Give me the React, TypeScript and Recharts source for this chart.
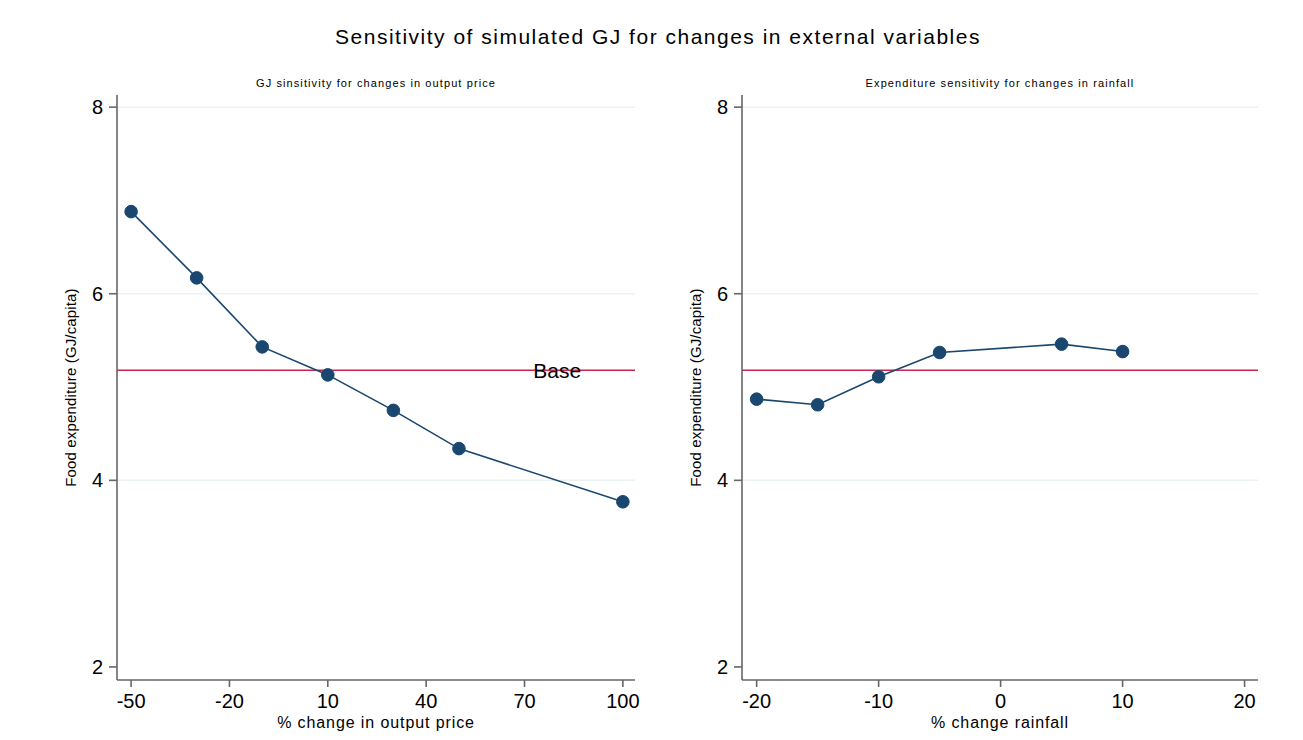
import React from 'react';
import { LineChart, Line, XAxis, YAxis, ReferenceLine, ReferenceDot } from 'recharts';

// Simulated food expenditure (GJ/capita) under changes in output price
const priceChange = [-50, -30, -10, 10, 30, 50, 100];
const priceExpenditure = [6.88, 6.17, 5.43, 5.13, 4.75, 4.34, 3.77];

// Simulated food expenditure (GJ/capita) under changes in rainfall
const rainChange = [-20, -15, -10, -5, 5, 10];
const rainExpenditure = [4.87, 4.81, 5.11, 5.37, 5.46, 5.38];

const priceTicks = [-50, -20, 10, 40, 70, 100];
const rainTicks = [-20, -10, 0, 10, 20];
const yTicks = [2, 4, 6, 8];
const gridValues = [4, 6, 8];
const BASE = 5.18;

const FONT = '"Liberation Sans", Arial, Helvetica, sans-serif';
const NAVY = '#1a476f';
const RED = '#cc2450';
const AXIS = '#666666';
const GRID = '#e9f1f2';

type Point = { x: number; y: number };

const zip = (xs: number[], ys: number[]): Point[] => xs.map((x, i) => ({ x, y: ys[i] }));

type PanelProps = {
  data: Point[];
  xTicks: number[];
  xDomain: [number, number];
  xTitle: string;
  width: number;
  yAxisWidth: number;
  marginRight: number;
  baseLabelX?: number;
};

// Rotated y-axis title, placed at a fixed distance left of the axis line
const yTitle = (offsetFromAxis: number) => (props: any) => {
  const vb = props.viewBox || {};
  const x = vb.x + vb.width - offsetFromAxis;
  const y = vb.y + vb.height / 2;
  return (
    <text
      x={x}
      y={y}
      transform={`rotate(-90, ${x}, ${y})`}
      textAnchor="middle"
      dominantBaseline="central"
      fontSize={15}
      fontFamily={FONT}
      fill="#000"
      style={{ letterSpacing: '0.15px' }}
    >
      Food expenditure (GJ/capita)
    </text>
  );
};

// x-axis title, centred under the plot area
const xTitleContent = (text: string) => (props: any) => {
  const vb = props.viewBox || {};
  const x = vb.x + vb.width / 2;
  const y = vb.y + 42;
  return (
    <text
      x={x}
      y={y}
      textAnchor="middle"
      dominantBaseline="central"
      fontSize={16}
      fontFamily={FONT}
      fill="#000"
      style={{ letterSpacing: '0.9px' }}
    >
      {text}
    </text>
  );
};

function Panel({ data, xTicks, xDomain, xTitle, width, yAxisWidth, marginRight, baseLabelX }: PanelProps) {
  return (
    <LineChart
      width={width}
      height={740}
      data={data}
      margin={{ top: 95, right: marginRight, left: 0, bottom: 0 }}
      style={{ fontFamily: FONT }}
    >
      {gridValues.map((v) => (
        <ReferenceLine key={v} y={v} stroke={GRID} strokeWidth={1.5} />
      ))}
      <XAxis
        type="number"
        dataKey="x"
        domain={xDomain}
        ticks={xTicks}
        interval={0}
        allowDataOverflow
        height={60}
        tickSize={7}
        tickMargin={7}
        stroke={AXIS}
        strokeWidth={1.6}
        tick={{ fontSize: 20, fill: '#000', fontFamily: FONT }}
        label={{ content: xTitleContent(xTitle) }}
      />
      <YAxis
        type="number"
        domain={[1.86, 8.13]}
        ticks={yTicks}
        interval={0}
        allowDataOverflow
        width={yAxisWidth}
        tickSize={8}
        tickMargin={6}
        stroke={AXIS}
        strokeWidth={1.6}
        tick={{ fontSize: 20, fill: '#000', fontFamily: FONT }}
        label={{ content: yTitle(47) }}
      />
      <ReferenceLine y={BASE} stroke={RED} strokeWidth={1.6} />
      {baseLabelX !== undefined && (
        <ReferenceDot
          x={baseLabelX}
          y={BASE}
          r={0.01}
          fill="none"
          stroke="none"
          label={{ value: 'Base', position: 'center', fontSize: 21, fill: '#000', fontFamily: FONT }}
        />
      )}
      <Line
        type="linear"
        dataKey="y"
        stroke={NAVY}
        strokeWidth={1.6}
        dot={{ r: 6.3, fill: NAVY, stroke: NAVY, strokeWidth: 1 }}
        activeDot={false}
        isAnimationActive={false}
      />
    </LineChart>
  );
}

const titleStyle: React.CSSProperties = {
  position: 'absolute',
  fontFamily: FONT,
  color: '#000',
  whiteSpace: 'nowrap',
  transform: 'translate(-50%, -50%)',
};

export default function App() {
  return (
    <div style={{ position: 'absolute', left: 0, top: 0, width: 1303, height: 740, background: '#fff', overflow: 'hidden' }}>
      <div style={{ position: 'absolute', left: 0, top: 0 }}>
        <Panel
          data={zip(priceChange, priceExpenditure)}
          xTicks={priceTicks}
          xDomain={[-54.3, 103.7]}
          xTitle="% change in output price"
          width={650}
          yAxisWidth={117}
          marginRight={15}
          baseLabelX={80}
        />
      </div>
      <div style={{ position: 'absolute', left: 650, top: 0 }}>
        <Panel
          data={zip(rainChange, rainExpenditure)}
          xTicks={rainTicks}
          xDomain={[-21.2, 21.1]}
          xTitle="% change rainfall"
          width={653}
          yAxisWidth={92}
          marginRight={45}
        />
      </div>
      <div style={{ ...titleStyle, left: 658, top: 37, fontSize: 21, letterSpacing: '1.5px' }}>
        Sensitivity of simulated GJ for changes in external variables
      </div>
      <div style={{ ...titleStyle, left: 376, top: 83, fontSize: 11, letterSpacing: '1.1px' }}>
        GJ sinsitivity for changes in output price
      </div>
      <div style={{ ...titleStyle, left: 1000, top: 83, fontSize: 11, letterSpacing: '1.1px' }}>
        Expenditure sensitivity for changes in rainfall
      </div>
    </div>
  );
}
